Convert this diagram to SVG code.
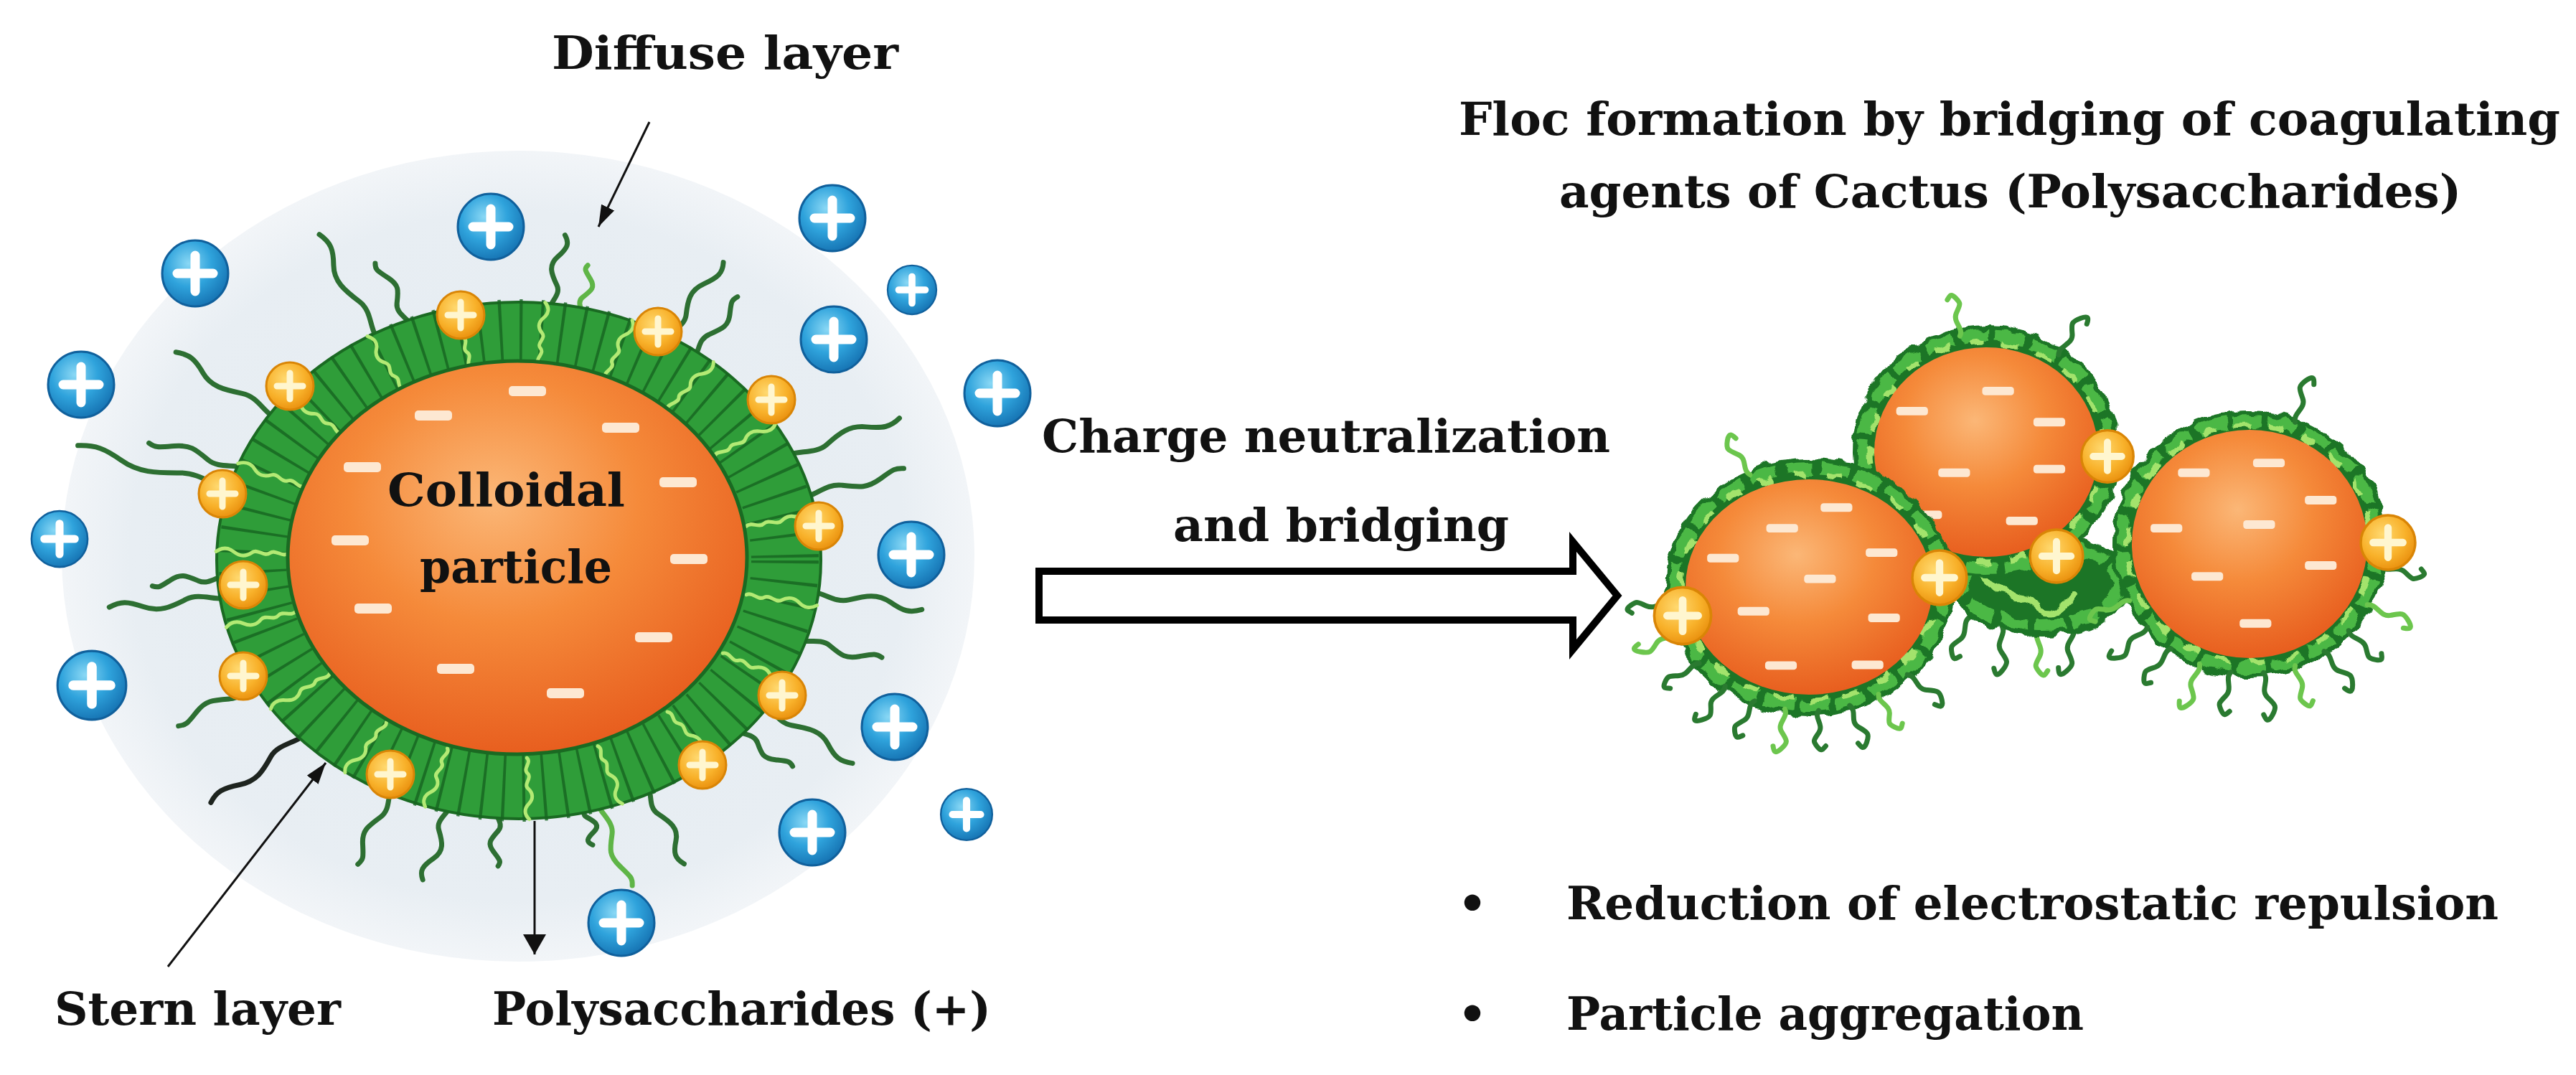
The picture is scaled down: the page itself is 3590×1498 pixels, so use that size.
<svg xmlns="http://www.w3.org/2000/svg" xmlns:xlink="http://www.w3.org/1999/xlink" width="3590" height="1498" viewBox="0 0 3590 1498">
<style>
.lbl{font-family:"DejaVu Serif","Liberation Serif",serif;font-weight:bold;font-size:64px;fill:#111;}
.ln{stroke:#111;stroke-width:3;fill:none;}
.coat{fill:#1d7425;}
.coat2{fill:none;stroke:#4cb845;stroke-width:16;stroke-dasharray:40 10;}
.coat3{fill:none;stroke:#a3e36c;stroke-width:7;stroke-dasharray:22 26;}
</style>
<defs>
<radialGradient id="gPale" cx="0.5" cy="0.5" r="0.5"><stop offset="0" stop-color="#e4ebf1"/><stop offset="0.85" stop-color="#e8eef3"/><stop offset="1" stop-color="#f2f5f8"/></radialGradient>
<radialGradient id="gCore" cx="0.45" cy="0.35" r="0.7"><stop offset="0" stop-color="#fbb777"/><stop offset="0.45" stop-color="#f58a3a"/><stop offset="1" stop-color="#e6581b"/></radialGradient>
<radialGradient id="gBlue" cx="0.4" cy="0.35" r="0.7"><stop offset="0" stop-color="#8ad8f5"/><stop offset="0.5" stop-color="#2fa3dc"/><stop offset="1" stop-color="#1470b0"/></radialGradient>
<radialGradient id="gYel" cx="0.4" cy="0.35" r="0.7"><stop offset="0" stop-color="#ffd970"/><stop offset="0.6" stop-color="#f8b12a"/><stop offset="1" stop-color="#e88d0c"/></radialGradient>
<filter id="rough" x="-15%" y="-15%" width="130%" height="130%"><feTurbulence type="fractalNoise" baseFrequency="0.045" numOctaves="2" seed="5" result="n"/><feDisplacementMap in="SourceGraphic" in2="n" scale="16" xChannelSelector="R" yChannelSelector="G"/></filter>
<g id="bI"><circle r="46" fill="url(#gBlue)" stroke="#10609c" stroke-width="3"/><path d="M-25,0H25M0,-25V25" stroke="#fff" stroke-width="13" stroke-linecap="round"/></g>
<g id="yI"><circle r="33" fill="url(#gYel)" stroke="#d98506" stroke-width="3"/><path d="M-18,0H18M0,-18V18" stroke="#fff6cf" stroke-width="9" stroke-linecap="round"/></g>
<rect id="mn" x="-26" y="-7" width="52" height="14" rx="5" fill="#fde8d2"/>
<path id="T1" d="M0,0 C-14,-12 12,-26 2,-40 S-14,-64 -2,-76 S12,-94 4,-104" fill="none" stroke-linecap="round" vector-effect="non-scaling-stroke"/>
<path id="T2" d="M0,0 C12,-14 -12,-28 -2,-44 S12,-66 2,-80 S-10,-96 -6,-104" fill="none" stroke-linecap="round" vector-effect="non-scaling-stroke"/>
<path id="S1" d="M0,0 c-7,-8 7,-17 0,-25 s7,-17 0,-25 s-7,-17 0,-25 s7,-17 0,-25" fill="none" stroke-linecap="round" vector-effect="non-scaling-stroke"/>
<path id="C1" d="M0,0 c-8,-12 8,-24 -2,-36 s-12,-14 -4,-26 s10,-4 12,2" fill="none" stroke-linecap="round" vector-effect="non-scaling-stroke"/>
<path id="C2" d="M0,0 c8,-10 -6,-22 2,-34 s10,-12 4,-22 s-8,-4 -12,0" fill="none" stroke-linecap="round" vector-effect="non-scaling-stroke"/>
<marker id="ah" viewBox="0 0 30 20" refX="30" refY="10" markerWidth="30" markerHeight="20" markerUnits="userSpaceOnUse" orient="auto"><path d="M0,0 L30,10 L0,20 z" fill="#111"/></marker>
<marker id="ah2" viewBox="0 0 28 32" refX="28" refY="16" markerWidth="28" markerHeight="32" markerUnits="userSpaceOnUse" orient="auto"><path d="M0,0 L28,16 L0,32 z" fill="#111"/></marker>
</defs>
<rect width="3590" height="1498" fill="#fff"/>

<g id="diffuse-layer">
<ellipse cx="722" cy="775" rx="636" ry="565" fill="url(#gPale)"/>
</g>

<g id="colloidal-particle">
<g id="polysaccharide-tendrils" transform="translate(723,781) scale(1,0.855)" stroke="#2d6f32" stroke-width="7">
<use href="#T1" transform="rotate(-28) translate(0,-400) scale(1,1.92)"/>
<use href="#T2" transform="rotate(-21.8) translate(0,-400) scale(1,1.19)"/>
<use href="#T1" transform="rotate(6.5) translate(0,-400) scale(1,1.29)"/>
<use href="#T2" transform="rotate(12) translate(0,-400) scale(1,0.87)" stroke="#5fb547"/>
<use href="#T1" transform="rotate(30) translate(0,-400) scale(1,1.57)"/>
<use href="#T2" transform="rotate(36) translate(0,-400) scale(1,1.22)"/>
<use href="#T1" transform="rotate(66) translate(0,-400) scale(1,1.72)"/>
<use href="#T2" transform="rotate(75) translate(0,-400) scale(1,1.51)"/>
<use href="#T1" transform="rotate(97.7) translate(0,-400) scale(1,1.61)"/>
<use href="#T2" transform="rotate(108) translate(0,-400) scale(1,1.25)"/>
<use href="#T1" transform="rotate(125) translate(0,-400) scale(1,1.64)"/>
<use href="#T2" transform="rotate(132) translate(0,-400) scale(1,1.04)"/>
<use href="#T1" transform="rotate(154.6) translate(0,-400) scale(1,1.4)"/>
<use href="#T2" transform="rotate(164) translate(0,-400) scale(1,1.47)" stroke="#5fb547"/>
<use href="#T1" transform="rotate(167) translate(0,-400) scale(1,0.72)"/>
<use href="#T2" transform="rotate(184) translate(0,-400) scale(1,0.95)"/>
<use href="#T1" transform="rotate(194) translate(0,-400) scale(1,1.32)"/>
<use href="#T2" transform="rotate(205) translate(0,-400) scale(1,1.38)"/>
<use href="#T1" transform="rotate(227) translate(0,-400) scale(1,1.76)" stroke="#1e241f"/>
<use href="#T2" transform="rotate(241) translate(0,-400) scale(1,1.4)"/>
<use href="#T1" transform="rotate(262) translate(0,-400) scale(1,1.69)"/>
<use href="#T2" transform="rotate(266) translate(0,-400) scale(1,1.08)"/>
<use href="#T1" transform="rotate(286.6) translate(0,-400) scale(1,2.33)"/>
<use href="#T2" transform="rotate(291) translate(0,-400) scale(1,1.44)"/>
<use href="#T1" transform="rotate(305) translate(0,-400) scale(1,1.79)"/>
</g>
<ellipse id="stern-ring" cx="723" cy="781" rx="421" ry="360" fill="#2f9d39" stroke="#1a6a22" stroke-width="4"/>
<ellipse cx="723" cy="781" rx="371" ry="317" fill="none" stroke="#176420" stroke-width="94" stroke-dasharray="4 24" opacity="0.8"/>
<g id="ring-chains" transform="translate(723,781) scale(1,0.855)" stroke="#b3ea74" stroke-width="5">
<use href="#S1" transform="rotate(5) translate(0,-322)"/>
<use href="#S1" transform="rotate(22) translate(0,-322)"/>
<use href="#S1" transform="rotate(40) translate(0,-322)"/>
<use href="#S1" transform="rotate(58) translate(0,-322)"/>
<use href="#S1" transform="rotate(80) translate(0,-322)"/>
<use href="#S1" transform="rotate(100) translate(0,-322)"/>
<use href="#S1" transform="rotate(118) translate(0,-322)"/>
<use href="#S1" transform="rotate(140) translate(0,-322)"/>
<use href="#S1" transform="rotate(160) translate(0,-322)"/>
<use href="#S1" transform="rotate(178) translate(0,-322)"/>
<use href="#S1" transform="rotate(198) translate(0,-322)"/>
<use href="#S1" transform="rotate(215) translate(0,-322)"/>
<use href="#S1" transform="rotate(235) translate(0,-322)"/>
<use href="#S1" transform="rotate(255) translate(0,-322)"/>
<use href="#S1" transform="rotate(272) translate(0,-322)"/>
<use href="#S1" transform="rotate(292) translate(0,-322)"/>
<use href="#S1" transform="rotate(310) translate(0,-322)"/>
<use href="#S1" transform="rotate(330) translate(0,-322)"/>
<use href="#S1" transform="rotate(348) translate(0,-322)"/>
</g>
<ellipse id="core" cx="721" cy="777" rx="320" ry="274" fill="url(#gCore)" stroke="#1a6a22" stroke-width="5"/>
<g id="core-charges">
<use href="#mn" x="735" y="545"/><use href="#mn" x="604" y="579"/><use href="#mn" x="865" y="596"/>
<use href="#mn" x="505" y="651"/><use href="#mn" x="945" y="672"/><use href="#mn" x="488" y="753"/>
<use href="#mn" x="960" y="779"/><use href="#mn" x="520" y="848"/><use href="#mn" x="911" y="888"/>
<use href="#mn" x="635" y="932"/><use href="#mn" x="788" y="966"/>
</g>
<g id="stern-ions">
<use href="#yI" x="642" y="439"/><use href="#yI" x="917" y="462"/><use href="#yI" x="404" y="538"/>
<use href="#yI" x="1075" y="557"/><use href="#yI" x="310" y="688"/><use href="#yI" x="1141" y="733"/>
<use href="#yI" x="339" y="815"/><use href="#yI" x="339" y="942"/><use href="#yI" x="544" y="1079"/>
<use href="#yI" x="1090" y="969"/><use href="#yI" x="979" y="1066"/>
</g>
<text class="lbl" x="540" y="705" textLength="331" lengthAdjust="spacingAndGlyphs">Colloidal</text>
<text class="lbl" x="585" y="812" textLength="268" lengthAdjust="spacingAndGlyphs">particle</text>
</g>

<g id="counter-ions">
<use href="#bI" transform="translate(684,316)"/>
<use href="#bI" transform="translate(272,381)"/>
<use href="#bI" transform="translate(113,536)"/>
<use href="#bI" transform="translate(83,751) scale(0.85)"/>
<use href="#bI" transform="translate(128,955) scale(1.04)"/>
<use href="#bI" transform="translate(1160,304)"/>
<use href="#bI" transform="translate(1271,404) scale(0.74)"/>
<use href="#bI" transform="translate(1162,473)"/>
<use href="#bI" transform="translate(1390,548)"/>
<use href="#bI" transform="translate(1270,773)"/>
<use href="#bI" transform="translate(1247,1013)"/>
<use href="#bI" transform="translate(1347,1135) scale(0.78)"/>
<use href="#bI" transform="translate(1132,1160)"/>
<use href="#bI" transform="translate(866,1286)"/>
</g>

<g id="floc-cluster">
<g id="bridge-tendrils" stroke="#2a7a30" stroke-width="7">
<use href="#C1" transform="translate(2790,872) rotate(185)"/>
<use href="#C2" transform="translate(2840,880) rotate(172)" stroke="#6cc64d"/>
<use href="#C1" transform="translate(2890,874) rotate(195)"/>
<use href="#C2" transform="translate(2745,860) rotate(200)"/>
</g>
<g id="bridge" filter="url(#rough)">
<ellipse cx="2845" cy="815" rx="125" ry="72" class="coat"/>
<ellipse cx="2690" cy="705" rx="70" ry="60" class="coat"/>
<ellipse cx="2845" cy="815" rx="108" ry="56" class="coat2"/>
<path d="M2760,800 c20,30 50,20 70,40 s40,20 60,-10 M2700,760 c20,10 30,30 60,30" fill="none" stroke="#a3e36c" stroke-width="9" stroke-linecap="round"/>
</g>
<g id="sphere-middle">
<g filter="url(#rough)">
<ellipse cx="2768" cy="630" rx="186" ry="176" class="coat"/>
<ellipse cx="2768" cy="630" rx="172" ry="162" class="coat2"/>
<ellipse cx="2768" cy="630" rx="163" ry="153" class="coat3"/>
</g>
<g transform="translate(2768,630) scale(1,0.94)" stroke="#2a7a30" stroke-width="7">
<use href="#C1" transform="rotate(35) translate(0,-176)"/>
<use href="#C2" transform="rotate(-12) translate(0,-176)" stroke="#6cc64d"/>
</g>
<ellipse cx="2768" cy="630" rx="156" ry="146" fill="url(#gCore)"/>
<g transform="scale(0.85)">
<use href="#mn" x="3276" y="641"/><use href="#mn" x="3135" y="674"/><use href="#mn" x="3360" y="692"/>
<use href="#mn" x="3204" y="775"/><use href="#mn" x="3360" y="769"/><use href="#mn" x="3158" y="844"/>
<use href="#mn" x="3315" y="854"/>
</g>
</g>

<g id="sphere-left">
<g filter="url(#rough)">
<ellipse cx="2521" cy="818" rx="202" ry="180" class="coat"/>
<ellipse cx="2521" cy="818" rx="188" ry="166" class="coat2"/>
<ellipse cx="2521" cy="818" rx="179" ry="157" class="coat3"/>
</g>
<g transform="translate(2521,818) scale(1,0.89)" stroke="#2a7a30" stroke-width="7">
<use href="#C1" transform="rotate(135) translate(0,-194)"/>
<use href="#C2" transform="rotate(150) translate(0,-194)" stroke="#6cc64d"/>
<use href="#C1" transform="rotate(163) translate(0,-194)"/>
<use href="#C2" transform="rotate(176) translate(0,-194)"/>
<use href="#C1" transform="rotate(190) translate(0,-194)" stroke="#6cc64d"/>
<use href="#C2" transform="rotate(203) translate(0,-194)"/>
<use href="#C1" transform="rotate(217) translate(0,-194)"/>
<use href="#C2" transform="rotate(232) translate(0,-194)"/>
<use href="#C1" transform="rotate(248) translate(0,-194)" stroke="#6cc64d"/>
<use href="#C2" transform="rotate(262) translate(0,-194)"/>
<use href="#C1" transform="rotate(-25) translate(0,-194)" stroke="#6cc64d"/>
</g>
<ellipse cx="2521" cy="818" rx="172" ry="150" fill="url(#gCore)"/>
<g transform="scale(0.85)">
<use href="#mn" x="3011" y="832"/><use href="#mn" x="2922" y="866"/><use href="#mn" x="3085" y="906"/>
<use href="#mn" x="2825" y="915"/><use href="#mn" x="2984" y="949"/><use href="#mn" x="2875" y="1002"/>
<use href="#mn" x="3089" y="1013"/><use href="#mn" x="2920" y="1091"/><use href="#mn" x="3062" y="1090"/>
</g>
</g>

<g id="sphere-right">
<g filter="url(#rough)">
<ellipse cx="3135" cy="758" rx="192" ry="186" class="coat"/>
<ellipse cx="3135" cy="758" rx="178" ry="172" class="coat2"/>
<ellipse cx="3135" cy="758" rx="170" ry="165" class="coat3"/>
</g>
<g transform="translate(3135,758) scale(1,0.97)" stroke="#2a7a30" stroke-width="7">
<use href="#C1" transform="rotate(20) translate(0,-186)"/>
<use href="#C2" transform="rotate(100) translate(0,-186)"/>
<use href="#C1" transform="rotate(118) translate(0,-186)" stroke="#6cc64d"/>
<use href="#C2" transform="rotate(132) translate(0,-186)"/>
<use href="#C1" transform="rotate(146) translate(0,-186)"/>
<use href="#C2" transform="rotate(160) translate(0,-186)" stroke="#6cc64d"/>
<use href="#C1" transform="rotate(174) translate(0,-186)"/>
<use href="#C2" transform="rotate(188) translate(0,-186)"/>
<use href="#C1" transform="rotate(202) translate(0,-186)" stroke="#6cc64d"/>
<use href="#C2" transform="rotate(216) translate(0,-186)"/>
<use href="#C1" transform="rotate(230) translate(0,-186)"/>
<use href="#C2" transform="rotate(244) translate(0,-186)" stroke="#6cc64d"/>
</g>
<ellipse cx="3135" cy="758" rx="164" ry="159" fill="url(#gCore)"/>
<g transform="scale(0.85)">
<use href="#mn" x="3720" y="759"/><use href="#mn" x="3597" y="775"/><use href="#mn" x="3805" y="820"/>
<use href="#mn" x="3552" y="866"/><use href="#mn" x="3704" y="860"/><use href="#mn" x="3805" y="927"/>
<use href="#mn" x="3619" y="945"/><use href="#mn" x="3698" y="1022"/>
</g>
</g>

<g id="floc-ions">
<use href="#yI" transform="translate(2345,858) scale(1.2)"/>
<use href="#yI" transform="translate(2703,805) scale(1.15)"/>
<use href="#yI" transform="translate(2866,775) scale(1.12)"/>
<use href="#yI" transform="translate(2937,636) scale(1.1)"/>
<use href="#yI" transform="translate(3328,756) scale(1.15)"/>
</g>
</g>

<g id="connectors">
<line class="ln" x1="905" y1="170" x2="834" y2="316" marker-end="url(#ah)"/>
<line class="ln" x1="234" y1="1347" x2="454" y2="1063" marker-end="url(#ah)"/>
<line class="ln" x1="745" y1="1144" x2="745" y2="1330" marker-end="url(#ah2)"/>
<path id="main-arrow" d="M1448,796 H2192 V755 L2254,830 L2192,905 V864 H1448 Z" fill="#fff" stroke="#000" stroke-width="10" stroke-linejoin="miter"/>
</g>

<g id="labels">
<text class="lbl" x="769" y="96" textLength="483" lengthAdjust="spacingAndGlyphs">Diffuse layer</text>
<text class="lbl" x="76" y="1428" textLength="399" lengthAdjust="spacingAndGlyphs">Stern layer</text>
<text class="lbl" x="686" y="1428" textLength="695" lengthAdjust="spacingAndGlyphs">Polysaccharides (+)</text>
<text class="lbl" x="1452" y="630" textLength="792" lengthAdjust="spacingAndGlyphs">Charge neutralization</text>
<text class="lbl" x="1635" y="754" textLength="468" lengthAdjust="spacingAndGlyphs">and bridging</text>
<text class="lbl" x="2033" y="188" textLength="1535" lengthAdjust="spacingAndGlyphs">Floc formation by bridging of coagulating</text>
<text class="lbl" x="2173" y="289" textLength="1257" lengthAdjust="spacingAndGlyphs">agents of Cactus (Polysaccharides)</text>
<text class="lbl" x="2052" y="1281" text-anchor="middle">•</text>
<text class="lbl" x="2183" y="1281" textLength="1299" lengthAdjust="spacingAndGlyphs">Reduction of electrostatic repulsion</text>
<text class="lbl" x="2052" y="1435" text-anchor="middle">•</text>
<text class="lbl" x="2183" y="1435" textLength="721" lengthAdjust="spacingAndGlyphs">Particle aggregation</text>
</g>
</svg>
